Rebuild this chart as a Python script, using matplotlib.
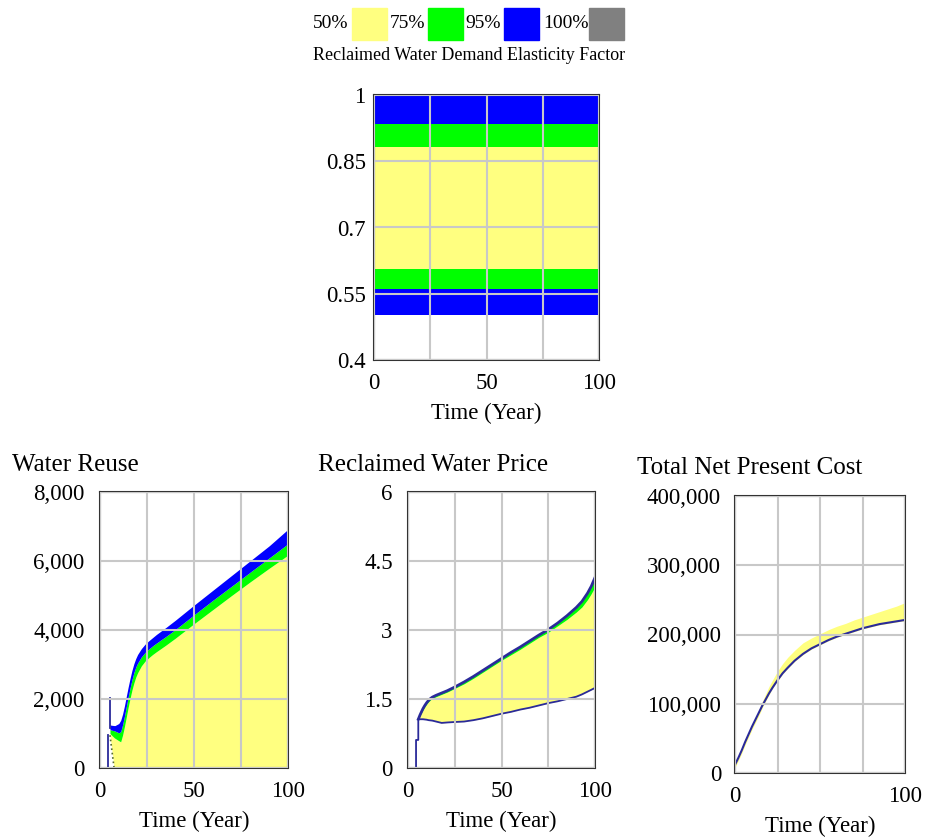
import numpy as np
import matplotlib.pyplot as plt
from matplotlib.patches import Rectangle

plt.rcParams["font.family"] = ["Liberation Serif", "DejaVu Serif"]

YELLOW = "#ffff80"
GREEN = "#00ff00"
BLUE = "#0000ff"
GRAY = "#808080"
LINE = "#2a2a9a"

# legend
leg_labels = ["50%", "75%", "95%", "100%"]
leg_colors = [YELLOW, GREEN, BLUE, GRAY]

# Reclaimed Water Demand Elasticity Factor (constant bands over time)
el_t = [0, 100]
el_blue_bot = [0.503, 0.503]
el_green_bot = [0.56, 0.56]
el_yellow_bot = [0.605, 0.605]
el_yellow_top = [0.882, 0.882]
el_green_top = [0.935, 0.935]
el_blue_top = [1.0, 1.0]

# Water Reuse
wr_t = [5.3, 6, 7.5, 8, 10, 11, 12, 13, 14, 15, 16, 17, 18, 19, 20,
        22, 24, 26, 28, 30, 35, 40, 50, 60, 70, 80, 90, 100]
wr_yellow_lo = [950, 650, 0, 0, 0, 0, 0, 0, 0, 0, 0, 0, 0, 0, 0,
                0, 0, 0, 0, 0, 0, 0, 0, 0, 0, 0, 0, 0]
wr_yellow_hi = [1000, 960, 880, 860, 790, 760, 950, 1200, 1480, 1760, 2020, 2260, 2460, 2630, 2760,
                2960, 3100, 3200, 3290, 3370, 3560, 3760, 4180, 4590, 5000, 5400, 5790, 6170]
wr_green_hi = [1120, 1100, 1080, 1070, 1020, 1050, 1250, 1500, 1780, 2060, 2320, 2560, 2760, 2920, 3040,
               3220, 3350, 3450, 3540, 3620, 3810, 4010, 4440, 4860, 5270, 5680, 6090, 6500]
wr_blue_hi = [1250, 1240, 1230, 1230, 1290, 1380, 1560, 1800, 2080, 2350, 2600, 2830, 3020, 3170, 3290,
              3460, 3590, 3690, 3780, 3870, 4070, 4280, 4720, 5150, 5580, 6010, 6440, 6920]
wr_spike1_t = [4.1, 4.1]
wr_spike1_v = [0, 960]
wr_spike2_t = [5.3, 5.3]
wr_spike2_v = [2030, 1160]

# Reclaimed Water Price
pr_t = [5.5, 6.5, 8, 9, 10, 11, 12, 13, 15, 18, 21, 25, 30, 35, 40,
        45, 50, 55, 60, 65, 70, 75, 80, 85, 90, 93, 96, 98, 100]
pr_lower = [1.06, 1.06, 1.06, 1.055, 1.05, 1.04, 1.035, 1.03, 1.01, 0.98, 0.99, 1.0, 1.01, 1.04, 1.08,
            1.13, 1.18, 1.22, 1.27, 1.31, 1.36, 1.41, 1.45, 1.50, 1.55, 1.60, 1.66, 1.70, 1.74]
pr_green_lo = [1.06, 1.14, 1.26, 1.33, 1.39, 1.44, 1.48, 1.51, 1.55, 1.60, 1.65, 1.73, 1.83, 1.95, 2.08,
               2.21, 2.34, 2.46, 2.58, 2.71, 2.84, 2.95, 3.09, 3.23, 3.39, 3.50, 3.66, 3.79, 3.94]
pr_upper = [1.06, 1.16, 1.29, 1.36, 1.42, 1.47, 1.51, 1.54, 1.58, 1.63, 1.68, 1.76, 1.87, 1.99, 2.12,
            2.25, 2.38, 2.51, 2.63, 2.76, 2.89, 3.01, 3.15, 3.31, 3.49, 3.62, 3.80, 3.95, 4.14]
pr_step_t = [4.3, 4.3, 5.5, 5.5]
pr_step_v = [0, 0.61, 0.61, 1.06]

# Total Net Present Cost
npc_t = [0, 2, 4, 6, 8, 10, 12, 14, 16, 18, 20, 22, 25, 28, 31, 35,
         40, 45, 50, 55, 60, 65, 70, 75, 80, 85, 90, 95, 100]
npc_line = [12000, 22000, 33000, 45000, 56000, 67000, 77000, 87000, 97000, 106000, 115000, 123000,
            134000, 144000, 152000, 162000, 172000, 180000, 186000, 192000, 197000, 201000,
            205000, 209000, 212000, 215000, 217000, 219000, 221000]
npc_yellow_lo = [8000, 18000, 29000, 41000, 52000, 63000, 73000, 83000, 94000, 104000, 113000, 122000,
                 133000, 143000, 151000, 161000, 171000, 179000, 185000, 191000, 196000, 200000,
                 204000, 208000, 211000, 214000, 216000, 218000, 220000]
npc_yellow_hi = [12000, 22000, 33000, 45000, 56000, 67000, 79000, 91000, 103000, 114000, 125000, 134000,
                 147000, 158000, 167000, 177000, 188000, 195000, 201000, 207000, 212000, 216000,
                 221000, 225000, 229000, 233000, 237000, 241000, 246000]

fig = plt.figure(figsize=(9.35, 8.38), dpi=100)
W, H = 935, 838


def px_axes(left, top, right, bottom):
    return fig.add_axes([left / W, 1 - bottom / H, (right - left) / W, (bottom - top) / H])


def style(ax, yticks, ylabels, xlabels, ypad):
    ax.set_xlim(0, 100)
    ax.set_ylim(yticks[0], yticks[-1])
    ax.set_xticks([0, 25, 50, 75, 100])
    ax.set_xticklabels(xlabels)
    ax.set_yticks(yticks)
    ax.set_yticklabels(ylabels)
    ax.tick_params(length=0, labelsize=16.5)
    ax.tick_params(axis="x", pad=9)
    ax.tick_params(axis="y", pad=ypad)
    ax.grid(True, color="#c8c8c8", lw=1.5)
    ax.set_axisbelow(False)
    for s in ax.spines.values():
        s.set_linewidth(1.5)
        s.set_color("#333333")
    ax.set_xlabel("Time (Year)", fontsize=16.5, labelpad=7)


# top chart
ax0 = px_axes(374, 95, 599, 360)
ax0.fill_between(el_t, el_blue_bot, el_green_bot, color=BLUE, lw=0)
ax0.fill_between(el_t, el_green_bot, el_yellow_bot, color=GREEN, lw=0)
ax0.fill_between(el_t, el_yellow_bot, el_yellow_top, color=YELLOW, lw=0)
ax0.fill_between(el_t, el_yellow_top, el_green_top, color=GREEN, lw=0)
ax0.fill_between(el_t, el_green_top, el_blue_top, color=BLUE, lw=0)
style(ax0, [0.4, 0.55, 0.7, 0.85, 1.0], ["0.4", "0.55", "0.7", "0.85", "1"],
      ["0", "", "50", "", "100"], 6)

# legend
x_text = [313, 390, 465, 543]
x_box = [352, 428, 504, 589]
for lab, col, xt, xb in zip(leg_labels, leg_colors, x_text, x_box):
    fig.text(xt / W, 1 - 24 / H, lab, fontsize=14, va="center", ha="left")
    fig.patches.append(Rectangle((xb / W, 1 - 40 / H), 35 / W, 32 / H,
                                 transform=fig.transFigure, color=col, figure=fig))
fig.text(469 / W, 1 - 55 / H, "Reclaimed Water Demand Elasticity Factor",
         fontsize=13, ha="center", va="center")

# Water Reuse
ax1 = px_axes(100, 492, 288, 768)
ax1.fill_between(wr_t, wr_yellow_lo, wr_yellow_hi, color=YELLOW, lw=0)
ax1.fill_between(wr_t, wr_yellow_hi, wr_green_hi, color=GREEN, lw=0)
ax1.fill_between(wr_t, wr_green_hi, wr_blue_hi, color=BLUE, lw=0)
ax1.plot(wr_t[:3], wr_yellow_lo[:3], color="#556b2f", lw=1.2, ls=":")
ax1.plot(wr_spike1_t, wr_spike1_v, color=LINE, lw=1.3)
ax1.plot(wr_spike2_t, wr_spike2_v, color=LINE, lw=1.3)
style(ax1, [0, 2000, 4000, 6000, 8000], ["0", "2,000", "4,000", "6,000", "8,000"],
      ["0", "", "50", "", "100"], 11)
fig.text(12 / W, 1 - 465 / H, "Water Reuse", fontsize=18, va="center")

# Reclaimed Water Price
ax2 = px_axes(408, 492, 595, 768)
ax2.fill_between(pr_t, pr_lower, pr_green_lo, color=YELLOW, lw=0)
ax2.fill_between(pr_t, pr_green_lo, pr_upper, color=GREEN, lw=0)
ax2.plot(pr_t, pr_upper, color=LINE, lw=2)
ax2.plot(pr_step_t + pr_t, pr_step_v + pr_lower, color=LINE, lw=1.3)
style(ax2, [0, 1.5, 3, 4.5, 6], ["0", "1.5", "3", "4.5", "6"],
      ["0", "", "50", "", "100"], 11)
fig.text(318 / W, 1 - 465 / H, "Reclaimed Water Price", fontsize=18, va="center")

# Total Net Present Cost
ax3 = px_axes(735, 496, 905, 773)
ax3.fill_between(npc_t, npc_yellow_lo, npc_yellow_hi, color=YELLOW, lw=0)
ax3.plot(npc_t, npc_line, color=LINE, lw=1.5)
style(ax3, [0, 100000, 200000, 300000, 400000],
      ["0", "100,000", "200,000", "300,000", "400,000"],
      ["0", "", "", "", "100"], 10)
fig.text(637 / W, 1 - 468 / H, "Total Net Present Cost", fontsize=18, va="center")

fig.savefig("out.png", dpi=100)
